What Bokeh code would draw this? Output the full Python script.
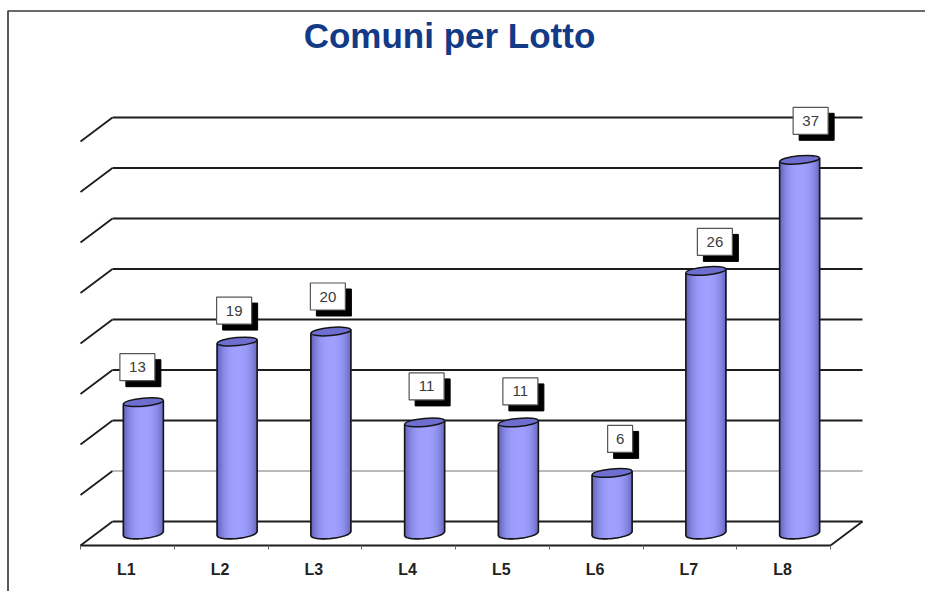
from bokeh.plotting import figure
from bokeh.models import LinearAxis, FixedTicker, Range1d
from bokeh.core.properties import value
from bokeh.embed import file_html
from bokeh.resources import INLINE
import numpy as np

# ---- data
categories = ["L1", "L2", "L3", "L4", "L5", "L6", "L7", "L8"]
comuni = [13, 19, 20, 11, 11, 6, 26, 37]
grid_values = [0, 5, 10, 15, 20, 25, 30, 35, 40]
title_text = "Comuni per Lotto"

# ---- label box offsets from the top of each bar, in pixels
label_dx = [-6, -3, -3, 2, 2, 8, 9, 11]
label_dy = [-35, -31, -35, -36, -31, -34, -29, -39]

# ---- layout: one category = 93.75 px, one unit of value = 10.1 px
W, H = 925, 591
PX_X, PX_Y = 93.75, 10.1
X0, Y0 = 80, 545               # front-left floor corner, figure pixels
DEPTH_X, DEPTH_Y = 32 / PX_X, 24 / PX_Y

p = figure(width=W, height=H, toolbar_location=None, output_backend="svg",
           x_range=Range1d(-X0 / PX_X, (W - X0) / PX_X),
           y_range=Range1d(-(H - Y0) / PX_Y, Y0 / PX_Y),
           min_border=0, min_border_left=0, min_border_right=0,
           min_border_top=0, min_border_bottom=0)
p.xaxis.visible = False
p.yaxis.visible = False
p.xgrid.visible = False
p.ygrid.visible = False
p.outline_line_color = None

def fx(px):   # figure pixel to data
    return (px - X0) / PX_X
def fy(py):
    return (Y0 - py) / PX_Y

# page frame
p.line([fx(7.5), fx(7.5), fx(925)], [fy(591), fy(10.5), fy(10.5)],
       line_color="#3a3a3a", line_width=1.7)

# walls and floor
n = len(categories)
for v in grid_values:
    thin = v == 5
    p.line([0, DEPTH_X], [v, v + DEPTH_Y], line_color="#1c1c1c", line_width=1.8)
    p.line([DEPTH_X, n + DEPTH_X], [v + DEPTH_Y, v + DEPTH_Y],
           line_color="#777777" if thin else "#1c1c1c",
           line_width=1 if thin else (2.2 if v == 40 else 1.8))
p.line([n, n + DEPTH_X], [0, DEPTH_Y], line_color="#1c1c1c", line_width=1.8)

# category axis on the floor's front edge
axis = LinearAxis(fixed_location=0, bounds=(0, n),
                  ticker=FixedTicker(ticks=[i + 0.49 for i in range(n)],
                                     minor_ticks=list(range(n + 1))))
axis.major_label_overrides = {i + 0.49: c for i, c in enumerate(categories)}
axis.major_tick_line_color = None
axis.minor_tick_in = 0
axis.minor_tick_out = 4
axis.minor_tick_line_color = "#666666"
axis.axis_line_color = "#1c1c1c"
axis.axis_line_width = 2
axis.major_label_standoff = 9
axis.major_label_text_font = "Liberation Sans"
axis.major_label_text_font_style = "bold"
axis.major_label_text_font_size = "16px"
axis.major_label_text_color = "#222222"
p.add_layout(axis, "below")

# cylinders
half_w = 20 / PX_X
top_h = 8 / PX_Y
bot_h = 10 / PX_Y
tilt = 2 / PX_Y
base = DEPTH_Y / 2
N = 40
edges = np.linspace(-1, 1, N + 1)
mids = (edges[:-1] + edges[1:]) / 2

def shade(t):
    a = np.clip(np.abs(t - 0.05) / 1.05, 0, 1) ** 2.5
    dark = np.array([0x5c, 0x5c, 0xb4])
    light = np.array([0xa0, 0xa0, 0xff])
    c = light + (dark - light) * a
    return "#%02x%02x%02x" % tuple(int(k) for k in c)

colors = [shade(t) for t in mids]
for i, v in enumerate(comuni):
    cx = i + 0.5 + DEPTH_X / 2
    top = base + v
    arc_y = base - bot_h / 2 * np.sqrt(np.clip(1 - mids ** 2, 0, 1)) + mids * tilt
    p.quad(left=cx + edges[:-1] * half_w - 0.006, right=cx + edges[1:] * half_w + 0.006,
           top=top + mids * tilt, bottom=arc_y, fill_color=colors, line_color=None)
    tt = np.linspace(-1, 1, 41)
    outline_x = np.concatenate(([cx - half_w], cx + tt * half_w, [cx + half_w]))
    outline_y = np.concatenate(([top - tilt],
                                base - bot_h / 2 * np.sqrt(1 - tt ** 2) + tt * tilt,
                                [top + tilt]))
    p.line(outline_x, outline_y, line_color="#151515", line_width=1.6)
    p.ellipse(x=[cx], y=[top], width=[half_w * 2], height=[top_h], angle=[0.09],
              fill_color="#6e6ed0", line_color="#151515", line_width=1.5)

    # value label
    label = str(v)
    bw = (35 if len(label) > 1 else 25) / PX_X
    bh = 27 / PX_Y
    lx = cx + label_dx[i] / PX_X
    ly = top - label_dy[i] / PX_Y
    p.rect([lx + 6 / PX_X], [ly - 6 / PX_Y], width=[bw], height=[bh],
           fill_color="black", line_color="black")
    p.rect([lx], [ly], width=[bw], height=[bh],
           fill_color="white", line_color="#555555", line_width=1.2)
    p.text([lx], [ly], text=[label], text_align="center", text_baseline="middle",
           text_font=value("Liberation Sans"), text_font_size="15px", text_color="#3a3a3a")

# title
p.text([fx(449)], [fy(35)], text=[title_text], text_align="center", text_baseline="middle",
       text_font=value("Liberation Sans"), text_font_style="bold",
       text_font_size="35px", text_color="#123a86")

open("out.html", "w").write(file_html(p, INLINE))
